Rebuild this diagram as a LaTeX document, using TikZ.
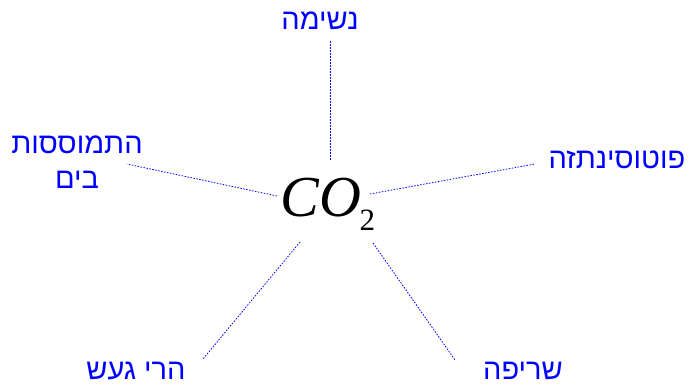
\documentclass[tikz,border=0pt]{standalone}
\usepackage{fontspec}
\setmainfont{Liberation Serif}
\newfontfamily\heb[Script=Hebrew]{Liberation Sans}
\TeXXeTstate=1
\begin{document}
\begin{tikzpicture}[x=1pt,y=-1pt,
  lbl/.style={text=blue,font=\heb\fontsize{29}{32}\selectfont,inner sep=0pt,align=center},
  conn/.style={draw=blue,line width=0.8pt,dash pattern=on 1.5pt off 1.5pt}]
\useasboundingbox (0,0) rectangle (689,385);
\node[inner sep=0pt,font=\fontsize{58}{62}\selectfont] (co2) at (328,204)
  {\textit{CO}\kern-2pt\lower14pt\hbox{\fontsize{31}{34}\selectfont 2}};
\node[lbl] (breath) at (320,21) {\beginR נשימה\endR};
\node[lbl] (photo) at (617,160) {\beginR פוטוסינתזה\endR};
\node[lbl] (burn) at (523,371) {\beginR שריפה\endR};
\node[lbl] (volc) at (136,371) {\beginR הרי געש\endR};
\node[lbl] (sea) at (77,162) {\beginR התמוססות\endR\\[3pt]\beginR בים\endR};
\coordinate (t1) at (330,160); \coordinate (t2) at (330,40);
\coordinate (r1) at (370,194); \coordinate (r2) at (535,164);
\coordinate (l1) at (277,196); \coordinate (l2) at (127,164);
\coordinate (bl1) at (300,242); \coordinate (bl2) at (203,359);
\coordinate (br1) at (373,243); \coordinate (br2) at (455,360);
\draw[conn] (t1) -- (t2);
\draw[conn] (r1) -- (r2);
\draw[conn] (l1) -- (l2);
\draw[conn] (bl1) -- (bl2);
\draw[conn] (br1) -- (br2);
\end{tikzpicture}
\end{document}
